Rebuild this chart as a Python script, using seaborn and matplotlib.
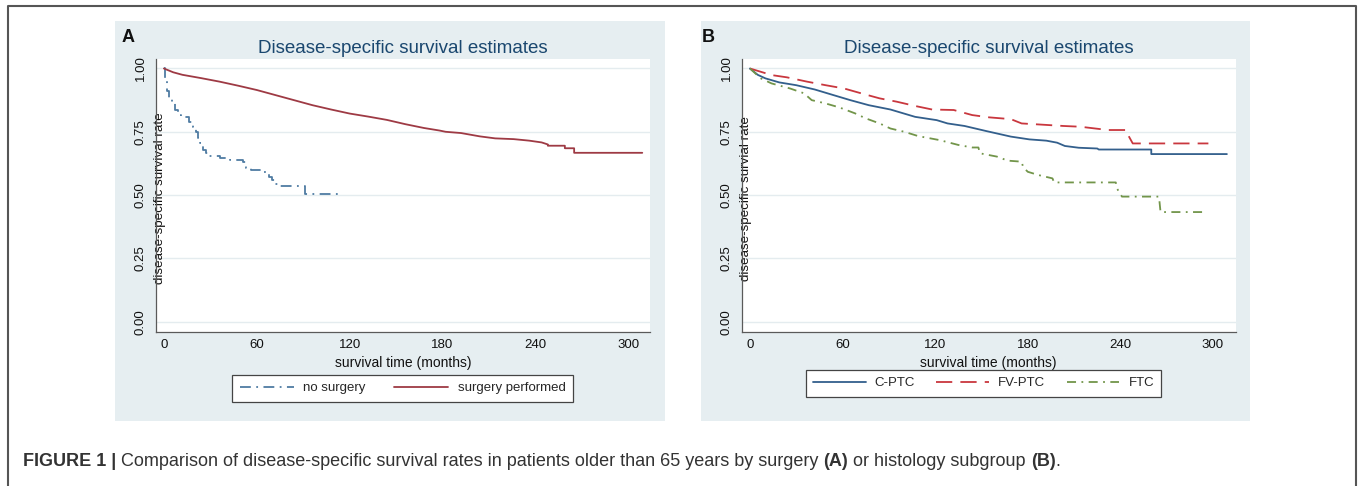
import matplotlib
matplotlib.use("Agg")
import matplotlib.pyplot as plt
import numpy as np
import pandas as pd
import seaborn as sns
from matplotlib.patches import Rectangle
from matplotlib.lines import Line2D

# ---------------- data ----------------
# Each curve is the polyline; a repeated time marks a visible drop.
# Panel A: by surgery
groups_a = ["no surgery", "surgery performed"]
nosurg_time = [0, 1, 1, 2, 2, 3, 3, 5, 5, 7, 7, 9, 9, 11, 11, 16, 16, 19, 19, 21, 21,
               22, 22, 23, 23, 25, 25, 27, 27, 29, 29, 36, 36, 43, 43, 51, 51, 53, 53,
               56, 56, 63, 63, 66, 66, 68, 68, 70, 70, 72, 72, 75, 75, 91, 91, 115]
nosurg_surv = [1.0, 1.0, 0.95, 0.95, 0.91, 0.91, 0.885, 0.885, 0.862, 0.862, 0.835,
               0.835, 0.815, 0.815, 0.809, 0.809, 0.79, 0.79, 0.77, 0.77, 0.75, 0.75,
               0.725, 0.725, 0.704, 0.704, 0.678, 0.678, 0.665, 0.665, 0.655, 0.655,
               0.648, 0.648, 0.638, 0.638, 0.632, 0.632, 0.606, 0.606, 0.60, 0.60,
               0.592, 0.592, 0.586, 0.586, 0.572, 0.572, 0.559, 0.559, 0.545, 0.545,
               0.536, 0.536, 0.505, 0.505]
surg_time = [0, 6, 12, 24, 36, 48, 60, 72, 84, 96, 108, 120, 132, 144, 156, 168, 178,
             182, 192, 204, 214, 226, 236, 244, 248, 248, 259, 259, 265, 265, 309]
surg_surv = [1.0, 0.985, 0.975, 0.962, 0.948, 0.932, 0.915, 0.895, 0.875, 0.855,
             0.838, 0.822, 0.81, 0.797, 0.78, 0.765, 0.755, 0.75, 0.745, 0.732, 0.724,
             0.721, 0.715, 0.708, 0.70, 0.695, 0.695, 0.685, 0.685, 0.667, 0.667]

# Panel B: by histology subgroup
groups_b = ["C-PTC", "FV-PTC", "FTC"]
cptc_time = [0, 5, 10, 19, 30, 42, 54, 65, 77, 91, 107, 121, 128, 139, 153, 169, 181,
             192, 199, 204, 213, 225, 226, 260, 260, 309]
cptc_surv = [1.0, 0.975, 0.961, 0.945, 0.934, 0.917, 0.895, 0.875, 0.855, 0.838,
             0.809, 0.796, 0.783, 0.773, 0.753, 0.731, 0.72, 0.715, 0.707, 0.694,
             0.687, 0.684, 0.680, 0.680, 0.662, 0.662]
fvptc_time = [0, 14, 24, 37, 49, 61, 72, 84, 95, 107, 118, 132, 144, 155, 169, 176,
              187, 203, 214, 232, 244, 245, 248, 297]
fvptc_surv = [1.0, 0.974, 0.965, 0.948, 0.934, 0.921, 0.902, 0.882, 0.869, 0.852,
              0.838, 0.836, 0.816, 0.807, 0.80, 0.783, 0.779, 0.773, 0.770, 0.757,
              0.757, 0.737, 0.704, 0.704]
ftc_time = [0, 7, 14, 26, 35, 40, 49, 58, 68, 75, 84, 91, 100, 109, 123, 135, 144,
            148, 149, 160, 167, 176, 177, 180, 187, 196, 197, 237, 238, 241, 265,
            266, 293]
ftc_surv = [1.0, 0.961, 0.941, 0.921, 0.902, 0.875, 0.862, 0.846, 0.823, 0.803,
            0.783, 0.763, 0.75, 0.733, 0.717, 0.698, 0.688, 0.688, 0.665, 0.652,
            0.636, 0.632, 0.61, 0.592, 0.579, 0.566, 0.55, 0.55, 0.524, 0.494,
            0.494, 0.433, 0.433]

x_ticks = [0, 60, 120, 180, 240, 300]
y_ticks = [0.0, 0.25, 0.5, 0.75, 1.0]
y_ticklabels = ["0.00", "0.25", "0.50", "0.75", "1.00"]

df_a = pd.concat([
    pd.DataFrame({"time": nosurg_time, "surv": nosurg_surv, "group": groups_a[0]}),
    pd.DataFrame({"time": surg_time, "surv": surg_surv, "group": groups_a[1]}),
], ignore_index=True)
df_b = pd.concat([
    pd.DataFrame({"time": cptc_time, "surv": cptc_surv, "group": groups_b[0]}),
    pd.DataFrame({"time": fvptc_time, "surv": fvptc_surv, "group": groups_b[1]}),
    pd.DataFrame({"time": ftc_time, "surv": ftc_surv, "group": groups_b[2]}),
], ignore_index=True)

# ---------------- style ----------------
sns.set_style("white")
plt.rcParams["font.family"] = ["Liberation Sans", "DejaVu Sans"]

W, H = 1358, 486
fig = plt.figure(figsize=(W / 100, H / 100), dpi=100)
fig.patch.set_facecolor("white")


def fx(px):
    return px / W


def fy(py):
    return 1 - py / H


BG = "#e6eef1"
for x0, x1 in [(115, 665), (701, 1250)]:
    fig.patches.append(Rectangle((fx(x0), fy(421)), fx(x1) - fx(x0), fy(21) - fy(421),
                                 transform=fig.transFigure, facecolor=BG,
                                 edgecolor="none", zorder=-5))
fig.add_artist(Line2D([fx(8), fx(8), fx(1356), fx(1356)], [-0.01, fy(6), fy(6), -0.01],
                      transform=fig.transFigure, color="#555555", lw=1.5, zorder=-4))

pal_a = {"no surgery": "#4f7ca3", "surgery performed": "#9e3a44"}
dash_a = {"no surgery": (6, 3, 1, 3), "surgery performed": ""}
pal_b = {"C-PTC": "#335f8c", "FV-PTC": "#c9373e", "FTC": "#72954a"}
dash_b = {"C-PTC": "", "FV-PTC": (9, 4.5), "FTC": (5, 3, 1, 3)}


def panel(ax_rect, df, order, pal, dashes, xlim, ylabel, leg_center, leg_top,
          letter, letter_x, hlen, cspace):
    ax = fig.add_axes(ax_rect)
    ax.set_zorder(1)
    ax.set_facecolor("white")
    sns.lineplot(data=df, x="time", y="surv", hue="group", style="group",
                 hue_order=order, style_order=order, palette=pal, dashes=dashes,
                 estimator=None, sort=False, lw=1.3, ax=ax, legend=True)
    leg = ax.get_legend()
    handles = leg.legend_handles
    labels = [t.get_text() for t in leg.get_texts()]
    leg.remove()
    ax.set_xlim(*xlim)
    ax.set_ylim(-0.0395, 1.0355)
    ax.set_xticks(x_ticks)
    ax.set_yticks(y_ticks)
    ax.set_yticklabels(y_ticklabels)
    ax.grid(axis="y", color="#e4ecef", lw=1.0)
    ax.set_axisbelow(True)
    for s in ["top", "right"]:
        ax.spines[s].set_visible(False)
    for s in ["left", "bottom"]:
        ax.spines[s].set_color("#5a5a5a")
        ax.spines[s].set_linewidth(0.9)
    ax.tick_params(axis="both", direction="out", length=3.6, width=0.8,
                   color="#5a5a5a", labelsize=9.5, labelcolor="#111111", pad=2)
    ax.tick_params(axis="y", pad=3)
    for lab in ax.get_yticklabels():
        lab.set_rotation(90)
        lab.set_va("center")
    ax.set_xlabel("survival time (months)", fontsize=10, color="#111111", labelpad=3)
    ax.set_ylabel(ylabel, fontsize=9.6, color="#111111")
    ax.yaxis.set_label_coords(0.02, 0.49)
    ax.set_title("Disease-specific survival estimates", fontsize=13.5,
                 color="#1a476f", pad=5)
    for h in handles:
        h.set_linewidth(1.3)
    lg = ax.legend(handles, labels, loc="upper center",
                   bbox_to_anchor=(fx(leg_center), fy(leg_top)),
                   bbox_transform=fig.transFigure, ncol=len(order), frameon=True,
                   fancybox=False, edgecolor="#444444", facecolor="white",
                   framealpha=1, fontsize=9.5, handlelength=hlen,
                   handletextpad=0.7, columnspacing=cspace, borderpad=0.55,
                   borderaxespad=0)
    lg.get_frame().set_linewidth(0.9)
    fig.text(fx(letter_x), fy(38), letter, fontsize=13, weight="bold",
             ha="left", va="center", color="#111111")
    return ax


panel([fx(156), fy(331.7), fx(650) - fx(156), fy(59.5) - fy(331.7)], df_a, groups_a,
      pal_a, dash_a, (-5.1, 314), "disease-specific survival rate", 402.5, 375, "A", 122,
      4.1, 2.2)
panel([fx(741.8), fy(331.7), fx(1235.7) - fx(741.8), fy(59.5) - fy(331.7)], df_b, groups_b,
      pal_b, dash_b, (-5.3, 314.7), "disease-specific survial rate", 983.5, 370, "B", 702,
      4.0, 1.6)

# ---------------- caption ----------------
pieces = [("FIGURE 1 | ", "bold"),
          ("Comparison of disease-specific survival rates in patients older than 65 years by surgery ", "normal"),
          ("(A)", "bold"), (" or histology subgroup ", "normal"), ("(B)", "bold"), (".", "normal")]
renderer = fig.canvas.get_renderer()
x = 23
for txt, wt in pieces:
    t = fig.text(fx(x), fy(461.7), txt, fontsize=13, weight=wt, color="#333333",
                 ha="left", va="center")
    x += t.get_window_extent(renderer=renderer).width

fig.savefig("out.png", dpi=100)
